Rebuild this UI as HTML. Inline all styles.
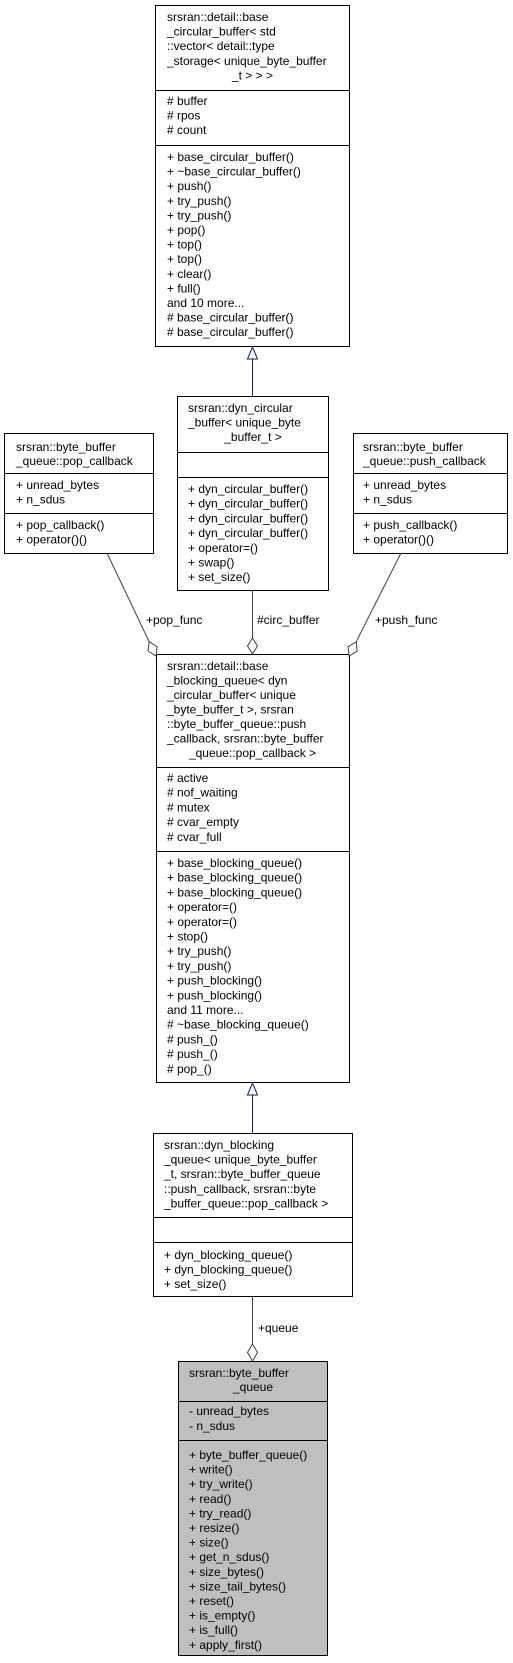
<!DOCTYPE html>
<html><head><meta charset="utf-8"><style>
html,body{margin:0;padding:0;background:#fff;}
svg{display:block;}
text{font-family:"Liberation Sans",sans-serif;font-size:12px;fill:#000;}
</style></head><body>
<svg width="513" height="1663" viewBox="0 0 513 1663" xmlns="http://www.w3.org/2000/svg">
<g fill="#fff" stroke="#000" stroke-width="1">
<rect x="155.5" y="5.5" width="194" height="341"/>
<rect x="177.5" y="396.5" width="151" height="194"/>
<rect x="4.5" y="433.5" width="149" height="120"/>
<rect x="353.5" y="433.5" width="154" height="120"/>
<rect x="156.5" y="654.5" width="193" height="428"/>
<rect x="153.5" y="1133.5" width="199" height="163"/>
<rect x="178.5" y="1361.5" width="149" height="294" fill="#bfbfbf"/>
</g>
<g stroke="#000" stroke-width="1">
<line x1="155" y1="90.5" x2="350" y2="90.5"/><line x1="155" y1="145.5" x2="350" y2="145.5"/>
<line x1="177" y1="452.5" x2="329" y2="452.5"/><line x1="177" y1="477.5" x2="329" y2="477.5"/>
<line x1="4" y1="473.5" x2="154" y2="473.5"/><line x1="4" y1="513.5" x2="154" y2="513.5"/>
<line x1="353" y1="473.5" x2="508" y2="473.5"/><line x1="353" y1="513.5" x2="508" y2="513.5"/>
<line x1="156" y1="767.5" x2="350" y2="767.5"/><line x1="156" y1="851.5" x2="350" y2="851.5"/>
<line x1="153" y1="1217.5" x2="353" y2="1217.5"/><line x1="153" y1="1242.5" x2="353" y2="1242.5"/>
<line x1="178" y1="1401.5" x2="328" y2="1401.5"/><line x1="178" y1="1440.5" x2="328" y2="1440.5"/>
</g>
<!-- inheritance -->
<g stroke="#191970" stroke-width="1" fill="none">
<line x1="252.5" y1="359" x2="252.5" y2="396"/>
<polygon points="252.5,347 247.5,359 257.5,359" fill="#fff"/>
<line x1="252.5" y1="1095" x2="252.5" y2="1133"/>
<polygon points="252.5,1083 247.5,1095 257.5,1095" fill="#fff"/>
</g>
<!-- aggregation -->
<g stroke="#404040" stroke-width="1" fill="#fff">
<line x1="252.5" y1="591" x2="252.5" y2="638"/>
<polygon points="252.5,638 257.5,646 252.5,654 247.5,646"/>
<line x1="107" y1="553" x2="149.1" y2="641.6"/>
<polygon points="149.1,641.6 157.1,646.7 156,656 148.1,651"/>
<line x1="401" y1="553" x2="356.2" y2="641.8"/>
<polygon points="356.2,641.8 357.1,651.2 349,656 348.1,646.7"/>
<line x1="252.5" y1="1297" x2="252.5" y2="1344"/>
<polygon points="252.5,1344 257.5,1352.5 252.5,1361 247.5,1352.5"/>
</g>
<text x="146" y="624">+pop_func</text>
<text x="257" y="624">#circ_buffer</text>
<text x="375" y="624">+push_func</text>
<text x="258" y="1332">+queue</text>

<!-- top box -->
<g>
<text x="167" y="21">srsran::detail::base</text>
<text x="167" y="35.6">_circular_buffer&lt; std</text>
<text x="167" y="50.2">::vector&lt; detail::type</text>
<text x="167" y="64.8">_storage&lt; unique_byte_buffer</text>
<text x="252.5" y="79.4" text-anchor="middle">_t &gt; &gt; &gt;</text>
<text x="167" y="105">#&#160;buffer</text>
<text x="167" y="119.6">#&#160;rpos</text>
<text x="167" y="134.2">#&#160;count</text>
<text x="167" y="161">+ base_circular_buffer()</text>
<text x="167" y="175.6">+ ~base_circular_buffer()</text>
<text x="167" y="190.2">+ push()</text>
<text x="167" y="204.8">+ try_push()</text>
<text x="167" y="219.4">+ try_push()</text>
<text x="167" y="234">+ pop()</text>
<text x="167" y="248.6">+ top()</text>
<text x="167" y="263.2">+ top()</text>
<text x="167" y="277.8">+ clear()</text>
<text x="167" y="292.4">+ full()</text>
<text x="167" y="307">and 10 more...</text>
<text x="167" y="321.6"># base_circular_buffer()</text>
<text x="167" y="336.2"># base_circular_buffer()</text>
</g>
<!-- dyn_circular -->
<g>
<text x="188" y="412">srsran::dyn_circular</text>
<text x="188" y="426.6">_buffer&lt; unique_byte</text>
<text x="253" y="441.2" text-anchor="middle">_buffer_t &gt;</text>
<text x="188" y="493">+ dyn_circular_buffer()</text>
<text x="188" y="507.7">+ dyn_circular_buffer()</text>
<text x="188" y="522.4">+ dyn_circular_buffer()</text>
<text x="188" y="537.1">+ dyn_circular_buffer()</text>
<text x="188" y="551.8">+ operator=()</text>
<text x="188" y="566.5">+ swap()</text>
<text x="188" y="581.2">+ set_size()</text>
</g>
<!-- pop_callback -->
<g>
<text x="16" y="451">srsran::byte_buffer</text>
<text x="16" y="465">_queue::pop_callback</text>
<text x="16" y="489">+ unread_bytes</text>
<text x="16" y="503.6">+ n_sdus</text>
<text x="16" y="529">+ pop_callback()</text>
<text x="16" y="543.6">+ operator()()</text>
</g>
<!-- push_callback -->
<g>
<text x="363" y="451">srsran::byte_buffer</text>
<text x="363" y="465">_queue::push_callback</text>
<text x="363" y="489">+ unread_bytes</text>
<text x="363" y="503.6">+ n_sdus</text>
<text x="363" y="529">+ push_callback()</text>
<text x="363" y="543.6">+ operator()()</text>
</g>
<!-- main -->
<g>
<text x="167" y="670">srsran::detail::base</text>
<text x="167" y="684.5">_blocking_queue&lt; dyn</text>
<text x="167" y="699">_circular_buffer&lt; unique</text>
<text x="167" y="713.5">_byte_buffer_t &gt;, srsran</text>
<text x="167" y="728">::byte_buffer_queue::push</text>
<text x="167" y="742.5">_callback, srsran::byte_buffer</text>
<text x="252.5" y="757" text-anchor="middle">_queue::pop_callback &gt;</text>
<text x="167" y="782"># active</text>
<text x="167" y="796.7"># nof_waiting</text>
<text x="167" y="811.4"># mutex</text>
<text x="167" y="826.1"># cvar_empty</text>
<text x="167" y="840.8"># cvar_full</text>
<text x="167" y="867">+ base_blocking_queue()</text>
<text x="167" y="881.7">+ base_blocking_queue()</text>
<text x="167" y="896.4">+ base_blocking_queue()</text>
<text x="167" y="911.1">+ operator=()</text>
<text x="167" y="925.8">+ operator=()</text>
<text x="167" y="940.5">+ stop()</text>
<text x="167" y="955.2">+ try_push()</text>
<text x="167" y="969.9">+ try_push()</text>
<text x="167" y="984.6">+ push_blocking()</text>
<text x="167" y="999.3">+ push_blocking()</text>
<text x="167" y="1014">and 11 more...</text>
<text x="167" y="1028.7"># ~base_blocking_queue()</text>
<text x="167" y="1043.4"># push_()</text>
<text x="167" y="1058.1"># push_()</text>
<text x="167" y="1072.8"># pop_()</text>
</g>
<!-- dyn_blocking -->
<g>
<text x="164" y="1149">srsran::dyn_blocking</text>
<text x="164" y="1163.6">_queue&lt; unique_byte_buffer</text>
<text x="164" y="1178.2">_t, srsran::byte_buffer_queue</text>
<text x="164" y="1192.8">::push_callback, srsran::byte</text>
<text x="164" y="1207.4">_buffer_queue::pop_callback &gt;</text>
<text x="164" y="1259">+ dyn_blocking_queue()</text>
<text x="164" y="1273.5">+ dyn_blocking_queue()</text>
<text x="164" y="1288">+ set_size()</text>
</g>
<!-- bottom -->
<g>
<text x="189" y="1377">srsran::byte_buffer</text>
<text x="253" y="1391" text-anchor="middle">_queue</text>
<text x="189" y="1415">- unread_bytes</text>
<text x="189" y="1430">- n_sdus</text>
<text x="189" y="1459">+ byte_buffer_queue()</text>
<text x="189" y="1473.6">+ write()</text>
<text x="189" y="1488.2">+ try_write()</text>
<text x="189" y="1502.8">+ read()</text>
<text x="189" y="1517.4">+ try_read()</text>
<text x="189" y="1532">+ resize()</text>
<text x="189" y="1546.6">+ size()</text>
<text x="189" y="1561.2">+ get_n_sdus()</text>
<text x="189" y="1575.8">+ size_bytes()</text>
<text x="189" y="1590.4">+ size_tail_bytes()</text>
<text x="189" y="1605">+ reset()</text>
<text x="189" y="1619.6">+ is_empty()</text>
<text x="189" y="1634.2">+ is_full()</text>
<text x="189" y="1648.8">+ apply_first()</text>
</g>
</svg>
</body></html>
